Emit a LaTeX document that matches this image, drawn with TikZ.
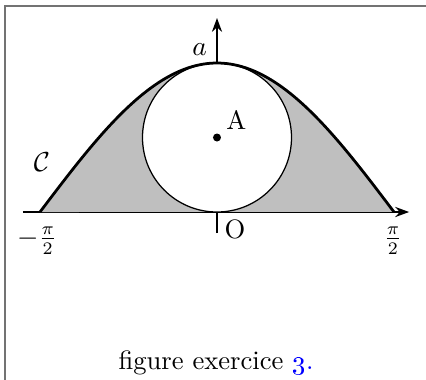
\documentclass[tikz,border=0pt]{standalone}
\usepackage{xcolor}
\usepackage{tikz}
\usetikzlibrary{arrows.meta}

\begin{document}
\begin{tikzpicture}[
    font=\fontsize{10.6}{12.5}\selectfont,
    axis/.style={line width=1.1pt, -{Stealth[length=5.5pt, width=4pt]}},
    courbe/.style={line width=1.1pt, line join=round},
    zone/.style={fill=black!25},
    cercle/.style={draw, fill=white, line width=0.5pt},
    cadre/.style={draw=black!55, line width=0.6pt},
    lbl/.style={inner sep=1pt},
  ]
  \useasboundingbox (-3.038,-2.338) rectangle (2.926,2.968);

  % ---------------- Frame ----------------
  \draw[cadre] (-2.968,-2.4) -- (-2.968,2.884) -- (3,2.884);

  % ---------------- Axes ----------------
  \coordinate (O) at (0,0);
  \coordinate (A) at (0,1.043);
  \draw[axis] (-2.716,0) -- (2.69,0);
  \draw[axis] (0,-0.294) -- (0,2.716);

  % ---------------- Shaded area, circle, curve ----------------
  \fill[zone] plot[domain=-pi/2:pi/2, samples=90] ({1.5776*\x},{2.086*cos(\x r)}) -- cycle;
  \draw[cercle] (A) circle[radius=1.043cm];
  \draw[courbe] plot[domain=-pi/2:pi/2, samples=90] ({1.5776*\x},{2.086*cos(\x r)});
  \fill (A) circle[radius=0.056cm];

  % ---------------- Labels ----------------
  \node[lbl, anchor=east] (la)  at (-0.1,2.27)   {$a$};
  \node[lbl]              (lA)  at (0.27,1.29)   {A};
  \node[lbl]              (lC)  at (-2.45,0.70)  {$\mathcal{C}$};
  \node[lbl]              (lO)  at (0.252,-0.24) {O};
  \node[lbl]              (lm)  at (-2.52,-0.40) {$-\frac{\pi}{2}$};
  \node[lbl]              (lp)  at (2.464,-0.40) {$\frac{\pi}{2}$};
  \node[lbl]              (cap) at (-0.014,-2.114)
       {figure exercice \textcolor{blue}{\oldstylenums{3}.}};
\end{tikzpicture}
\end{document}
